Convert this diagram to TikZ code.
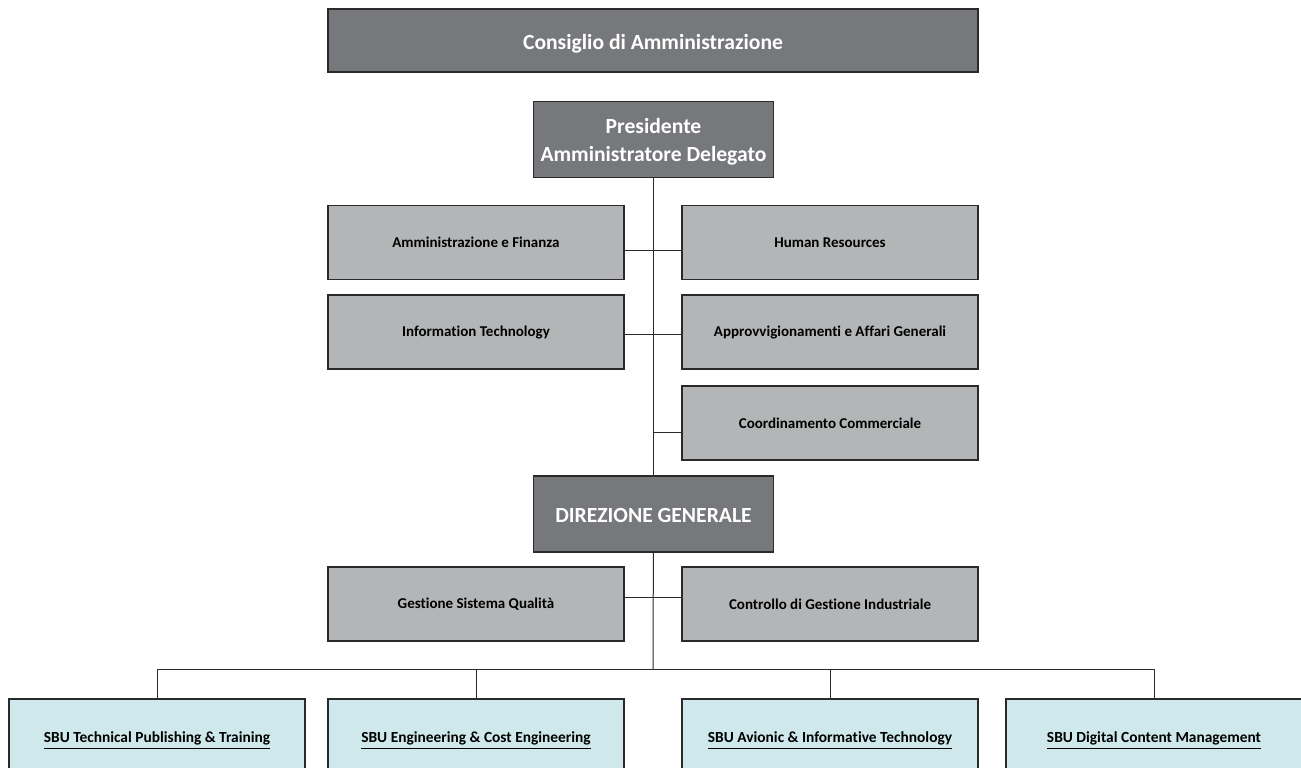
\documentclass[tikz,border=0pt]{standalone}
\usepackage{fontspec}
\setmainfont[Ligatures=NoCommon]{Carlito}
\usepackage{tikz}
\usetikzlibrary{positioning}

\definecolor{headgray}{HTML}{76787B}
\definecolor{staffgray}{HTML}{B3B5B6}
\definecolor{sbublue}{HTML}{CFE8EC}
\definecolor{edgegray}{HTML}{2A2A2A}

\begin{document}
\begin{tikzpicture}[x=0.5pt,y=-0.5pt,
    head/.style={draw=edgegray,line width=0.8pt,fill=headgray,text=white,
        font=\bfseries\fontsize{10.8}{14}\selectfont,align=center,
        minimum width=120pt,minimum height=38pt,inner sep=0pt},
    oneline/.style={text height=9pt,text depth=0.5pt},
    staff/.style={draw=edgegray,line width=0.8pt,fill=staffgray,
        font=\bfseries\fontsize{7.5}{9}\selectfont,
        minimum width=148pt,minimum height=37pt,inner sep=0pt},
    sbu/.style={staff,fill=sbublue,font=\bfseries\fontsize{7.7}{9}\selectfont,
        text height=7pt,text depth=0.4pt},
    link/.style={draw=edgegray,line width=0.5pt}]
            \useasboundingbox (0,0) rectangle (1301,767);

            % vertici
            \node[head,oneline,minimum width=325pt,minimum height=31.5pt] (cda) at (653,40.5) {Consiglio di Amministrazione};
            \node[head,text depth=0pt] (pres) at (653.5,139.5) {Presidente\\Amministratore Delegato};
            \node[head,oneline] (dg) at (653.5,514) {DIREZIONE GENERALE};

            % funzioni di staff
            \node[staff] (af) at (476,242.5) {Amministrazione e Finanza};
            \node[staff] (hr) at (830,242.5) {Human Resources};
            \node[staff] (it) at (476,332) {Information Technology};
            \node[staff] (aag) at (830,332) {Approvvigionamenti e Affari Generali};
            \node[staff] (cc) at (830,423) {Coordinamento Commerciale};
            \node[staff] (gsq) at (476,604) {Gestione Sistema Qualità};
            \node[staff] (cgi) at (830,604) {Controllo di Gestione Industriale};

            % business unit
            \node[sbu] (tpt) at (157,736) {\underline{SBU Technical Publishing \& Training}};
            \node[sbu] (ece) at (476,736) {\underline{SBU Engineering \& Cost Engineering}};
            \node[sbu] (ait) at (830,736) {\underline{SBU Avionic \& Informative Technology}};
            \node[sbu] (dcm) at (1154,736) {\underline{SBU Digital Content Management}};

            \coordinate (j1) at (653,250);
            \coordinate (j2) at (653,334);
            \coordinate (j3) at (653,432);
            \coordinate (j4) at (653,597);
            \coordinate (bus) at (653,669);

            \draw[link] (pres) -- (dg);
            \draw[link] (dg) -- (bus);
            \draw[link] (af.east |- j1) -- (hr.west |- j1);
            \draw[link] (it.east |- j2) -- (aag.west |- j2);
            \draw[link] (j3) -- (cc.west |- j3);
            \draw[link] (gsq.east |- j4) -- (cgi.west |- j4);

            \draw[link] (tpt.north) |- (bus) -| (dcm.north);
            \draw[link] (ece.north) -- (ece.north |- bus);
            \draw[link] (ait.north) -- (ait.north |- bus);
        \end{tikzpicture}
\end{document}
